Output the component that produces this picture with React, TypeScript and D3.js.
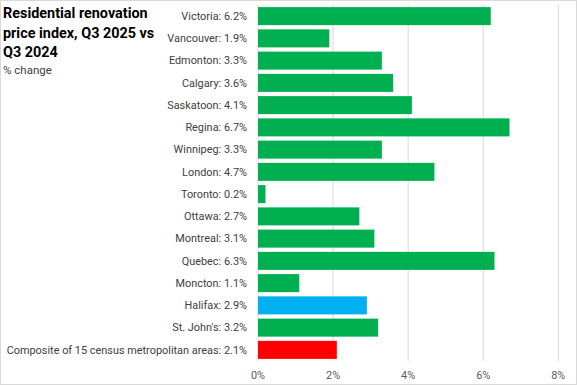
import React from "react";
import * as d3 from "d3";

const categories = [
  "Victoria", "Vancouver", "Edmonton", "Calgary", "Saskatoon", "Regina", "Winnipeg",
  "London", "Toronto", "Ottawa", "Montreal", "Quebec", "Moncton", "Halifax", "St. John's",
  "Composite of 15 census metropolitan areas",
];
const values = [6.2, 1.9, 3.3, 3.6, 4.1, 6.7, 3.3, 4.7, 0.2, 2.7, 3.1, 6.3, 1.1, 2.9, 3.2, 2.1];
const barColors = [
  "#00B050", "#00B050", "#00B050", "#00B050", "#00B050", "#00B050", "#00B050", "#00B050",
  "#00B050", "#00B050", "#00B050", "#00B050", "#00B050", "#00B0F0", "#00B050", "#FF0000",
];
const tickValues = [0, 2, 4, 6, 8];
const titleLines = ["Residential renovation", "price index, Q3 2025 vs", "Q3 2024"];
const subtitle = "% change";

const W = 577;
const H = 385;
const FONT = "Roboto, 'Noto Sans', sans-serif";

export default function App() {
  const x = d3.scaleLinear().domain([0, 8]).range([258, 558.3]);
  const y = d3.scaleBand<string>().domain(categories).range([5, 361]).paddingInner(0.19).paddingOuter(0.095);

  return (
    <svg
      width={W}
      height={H}
      style={{ position: "absolute", left: 0, top: 0, display: "block", background: "#fff" }}
      fontFamily={FONT}
    >
      <rect x={0.5} y={0.5} width={W - 1} height={H - 1} fill="#fff" stroke="#d9d9d9" />
      {tickValues.map((t) => (
        <line key={"g" + t} x1={x(t)} x2={x(t)} y1={5} y2={361} stroke="#d9d9d9" strokeWidth={1} />
      ))}
      {categories.map((c, i) => (
        <rect
          key={c}
          x={x(0)}
          y={y(c)}
          width={x(values[i]) - x(0)}
          height={y.bandwidth()}
          fill={barColors[i]}
        />
      ))}
      {categories.map((c, i) => (
        <text
          key={"l" + c}
          x={247}
          y={(y(c) as number) + y.bandwidth() / 2}
          dy="0.35em"
          textAnchor="end"
          fontSize={10.9}
          fill="#404040"
        >
          {`${c}: ${values[i]}%`}
        </text>
      ))}
      {tickValues.map((t) => (
        <text key={"t" + t} x={x(t)} y={375} dy="0.35em" textAnchor="middle" fontSize={10.9} fill="#595959">
          {`${t}%`}
        </text>
      ))}
      {titleLines.map((l, i) => (
        <text key={"h" + i} x={3} y={13 + i * 19.5} dy="0.35em" fontSize={14.4} fontWeight="bold" fill="#000">
          {l}
        </text>
      ))}
      <text x={3} y={70} dy="0.35em" fontSize={11.5} fill="#404040">
        {subtitle}
      </text>
    </svg>
  );
}
